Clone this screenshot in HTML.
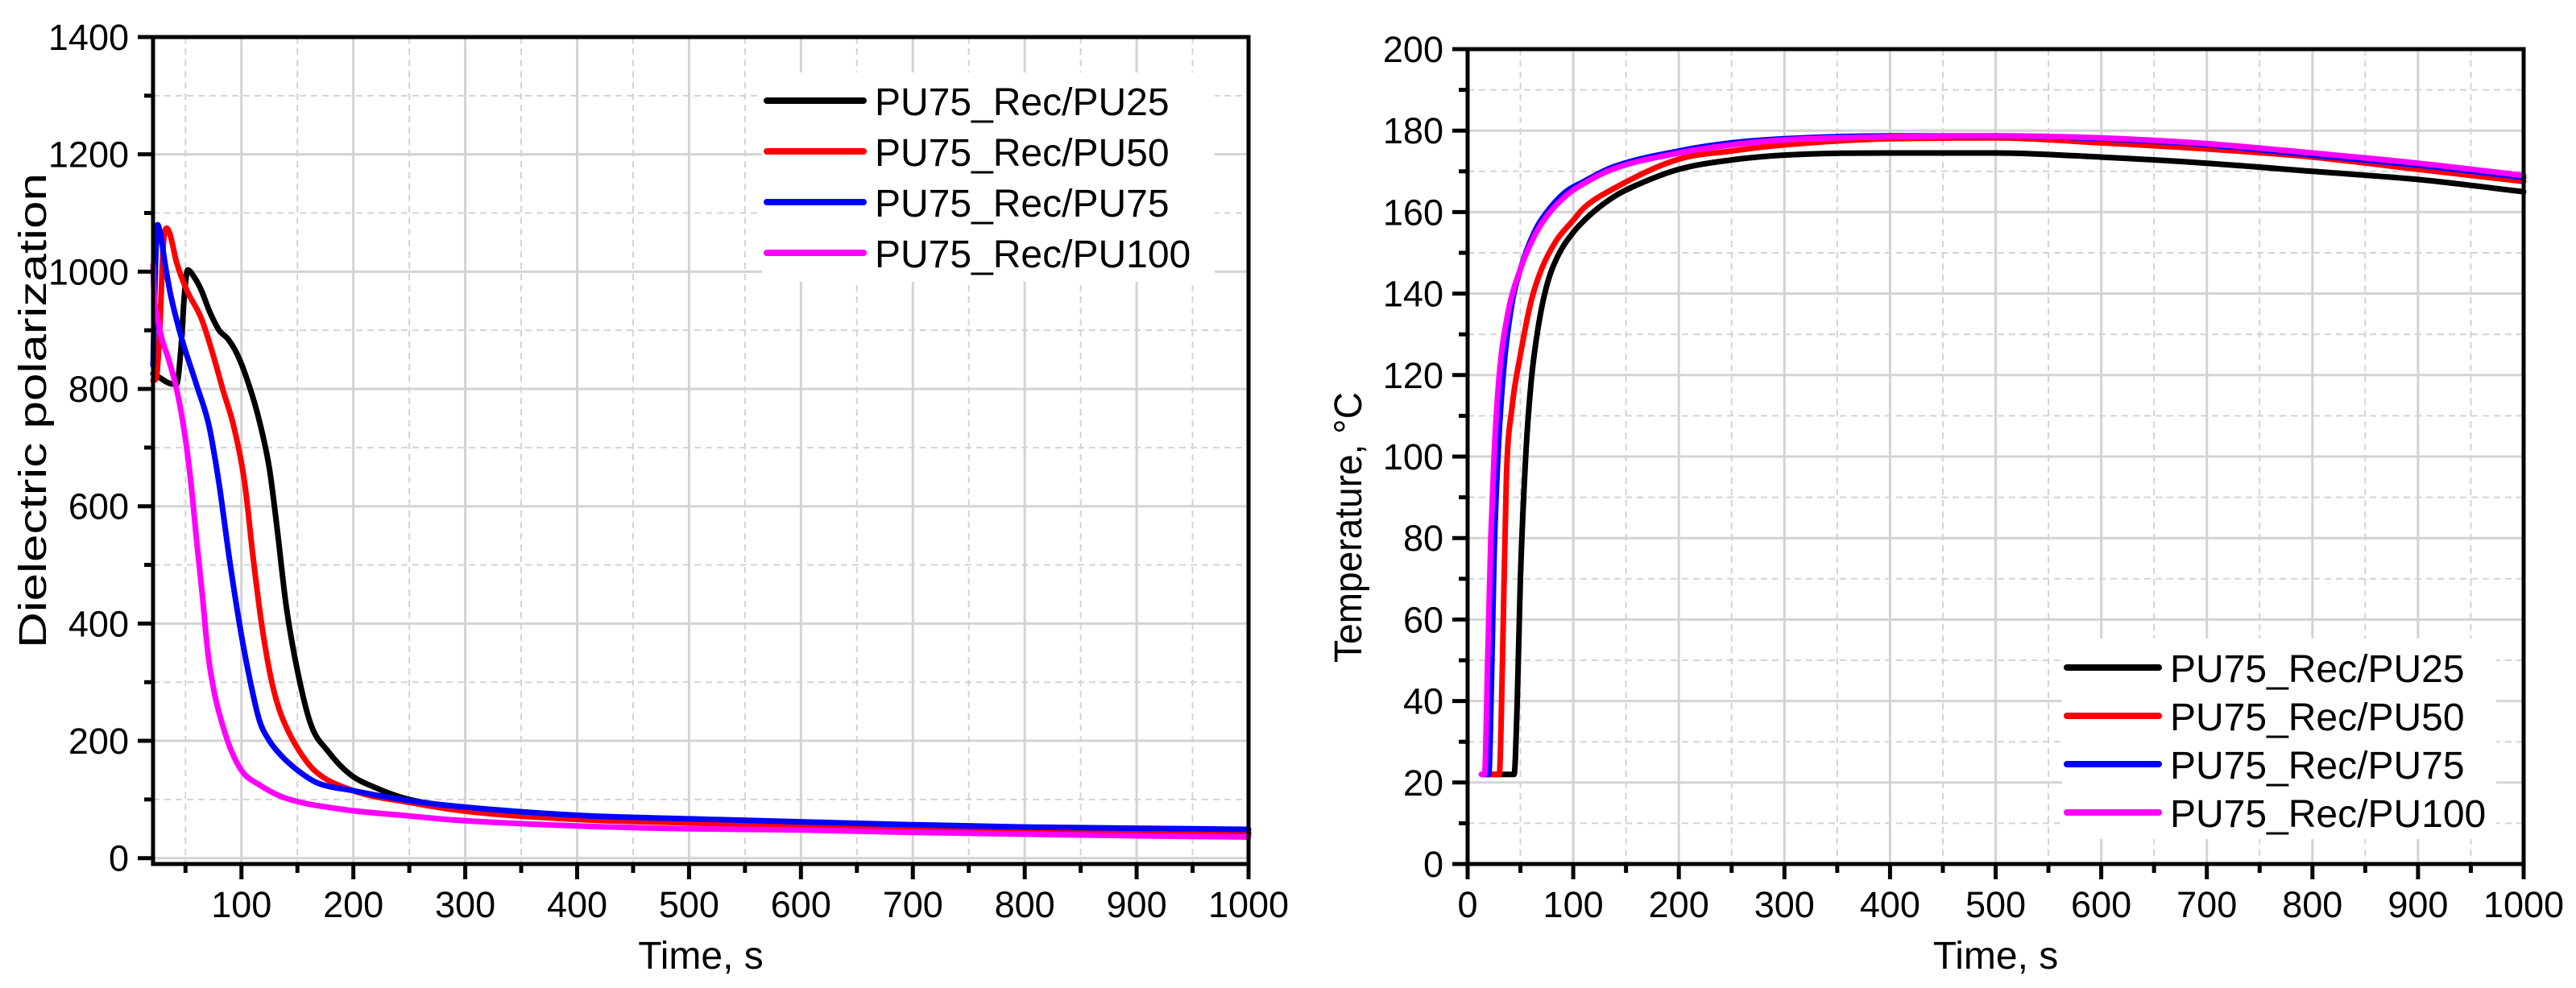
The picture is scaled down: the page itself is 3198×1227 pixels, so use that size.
<!DOCTYPE html>
<html><head><meta charset="utf-8"><style>
html,body{margin:0;padding:0;background:#fff;}
svg{display:block;font-family:"Liberation Sans",Arial,sans-serif;}
</style></head><body>
<svg id="fig" width="3198" height="1227" viewBox="0 0 3198 1227" xmlns="http://www.w3.org/2000/svg"></svg>
<script>
// ---------- Left chart data (dielectric polarization) ----------
const dpBlackX=[21,28,35,42,46,49,52,58,64,72,80,88,96,104,115,125,132,140,150,162,177,197,220,250,300,400,500,600,700,800,900,1000];
const dpBlackY=[826,818,810,808,870,960,1003,990,969,930,900,885,860,822,753,664,560,430,320,228,183,143,120,100,86,72,64,58,53,49,45,43];
const dpRedX=[21,24,27,30,33,36,42,51,64,73,84,93,103,110,118,126,133,139,150,165,200,250,300,400,500,600,700,800,900,1000];
const dpRedY=[814,820,900,1040,1074,1065,1016,969,921,869,795,737,638,520,400,310,258,228,188,150,115,95,80,66,60,55,50,46,42,40];
const dpBlueX=[21,23,25,28,32,37,46,60,71,80,90,100,108,116,125,137,150,167,200,250,300,400,500,600,700,800,900,1000];
const dpBlueY=[840,1000,1080,1060,1010,958,890,806,737,638,500,380,300,235,200,172,150,129,115,98,87,73,67,62,57,53,51,49];
const dpPinkX=[21,22,25,29,35,42,49,55,60,65,70,76,83,91,101,116,137,187,250,290,400,500,600,700,800,900,1000];
const dpPinkY=[1011,960,920,885,850,800,727,638,540,450,350,280,228,183,147,125,104,84,72,65,55,50,48,44,41,38,36];
const dpXTicks=[100,200,300,400,500,600,700,800,900,1000];
const dpYTicks=[0,200,400,600,800,1000,1200,1400];

// ---------- Right chart data (temperature) ----------
const tBlackX=[15,30,44,47,50,55,60,67,75,85,100,119,140,159,200,250,300,400,500,600,700,800,900,1000];
const tBlackY=[22,22,22,40,70,100,118,132,142,149,155,160,164,166.5,170.5,172.8,174,174.5,174.5,173.5,172,170,168,165];
const tRedX=[15,25,30,33,36.6,42,50,60,70,84,100,110,140,200,250,300,400,500,600,700,800,900,1000];
const tRedY=[22,22,22,50,94,112,125,138,146,153,158,161,166,173,175,176.5,178,178.2,177,175.5,173.5,170.5,167.5];
const tBlueX=[15,20,23,25,27.6,33,41,50,63,75,93,110,137,200,250,300,400,500,600,700,800,900,1000];
const tBlueY=[22,22,50,75,94,118,136,146,155,160,165,167.5,171,175,177,178,178.7,178.7,178,176.5,174,171.5,168.5];
const tPinkX=[13,16,19,22,25,30,38,50,63,75,93,110,137,200,250,300,400,500,600,700,800,900,1000];
const tPinkY=[22,22,50,80,100,120,135,146,154,159,164,167,170.5,174.5,176.5,177.7,178.5,178.7,178.2,176.8,174.5,172,169];
const tXTicks=[0,100,200,300,400,500,600,700,800,900,1000];
const tYTicks=[0,20,40,60,80,100,120,140,160,180,200];

const seriesNames=["PU75_Rec/PU25","PU75_Rec/PU50","PU75_Rec/PU75","PU75_Rec/PU100"];
const seriesColors=["#000000","#ff0000","#0000ff","#ff00ff"];

const NS="http://www.w3.org/2000/svg";
const svg=document.getElementById('fig');
function mk(tag,attrs,parent){const e=document.createElementNS(NS,tag);for(const k in attrs)e.setAttribute(k,attrs[k]);(parent||svg).appendChild(e);return e;}

// monotone cubic (Fritsch-Carlson) path through pixel points
function monoPath(px,py){
  const n=px.length;if(n<2)return '';
  const d=[],m=[];
  for(let i=0;i<n-1;i++){const dx=px[i+1]-px[i];d.push(dx===0?0:(py[i+1]-py[i])/dx);}
  m[0]=d[0];m[n-1]=d[n-2];
  for(let i=1;i<n-1;i++){m[i]=(d[i-1]*d[i]<=0)?0:(d[i-1]+d[i])/2;}
  for(let i=0;i<n-1;i++){
    if(d[i]===0){m[i]=0;m[i+1]=0;continue;}
    const a=m[i]/d[i],b=m[i+1]/d[i],s=a*a+b*b;
    if(s>9){const t=3/Math.sqrt(s);m[i]=t*a*d[i];m[i+1]=t*b*d[i];}
  }
  let p='M'+px[0].toFixed(1)+','+py[0].toFixed(1);
  for(let i=0;i<n-1;i++){
    const h=(px[i+1]-px[i])/3;
    p+=' C'+(px[i]+h).toFixed(1)+','+(py[i]+m[i]*h).toFixed(1)+' '+(px[i+1]-h).toFixed(1)+','+(py[i+1]-m[i+1]*h).toFixed(1)+' '+px[i+1].toFixed(1)+','+py[i+1].toFixed(1);
  }
  return p;
}

function chart(cfg){
  const g=mk('g',{});
  
  
  const sx=v=>cfg.L+(v-cfg.xmin)/(cfg.xmax-cfg.xmin)*(cfg.R-cfg.L);
  const sy=v=>cfg.B-(v-cfg.ymin)/(cfg.ymax-cfg.ymin)*(cfg.B-cfg.T);
  const grid=mk('g',{},g);
  
  
  for(let v=cfg.xGridStart;v<=cfg.xmax+1e-6;v+=cfg.xMinorStep){
    if(v<cfg.xmin)continue;
    const major=Math.abs(v/cfg.xMajorStep-Math.round(v/cfg.xMajorStep))<1e-6;
    mk('line',{x1:sx(v),x2:sx(v),y1:cfg.T,y2:cfg.B,stroke:'#d3d3d3','stroke-width':major?3:2,'stroke-dasharray':major?'':'8,6'},grid);
  }
  for(let v=cfg.ymin<0?0:cfg.ymin;v<=cfg.ymax+1e-6;v+=cfg.yMinorStep){
    const major=Math.abs(v/cfg.yMajorStep-Math.round(v/cfg.yMajorStep))<1e-6;
    mk('line',{x1:cfg.L,x2:cfg.R,y1:sy(v),y2:sy(v),stroke:'#d3d3d3','stroke-width':major?3:2,'stroke-dasharray':major?'':'8,6'},grid);
  }
  cfg.series.forEach((s,i)=>{
    const pth=mk('path',{d:monoPath(s.x.map(sx),s.y.map(sy)),fill:'none',stroke:seriesColors[i],'stroke-width':7,'stroke-linejoin':'round','stroke-linecap':'round'},g);
    
    
  });
  const lg=mk('g',{},g);
  
  
  mk('rect',{x:cfg.legBox[0],y:cfg.legBox[1],width:cfg.legBox[2],height:cfg.legBox[3],fill:'#fff'},lg);
  seriesNames.forEach((n,i)=>{
    const y=cfg.legY+i*cfg.legDy;
    const le=mk('g',{},lg);
    
    
    mk('line',{x1:cfg.legX,x2:cfg.legX+cfg.legLen,y1:y,y2:y,stroke:seriesColors[i],'stroke-width':8,'stroke-linecap':'round'},le);
    const t=mk('text',{x:cfg.legX+cfg.legLen+14,y:y+18,'font-size':48,fill:'#000'},le);
    t.textContent=n;
  });
  const fr=mk('rect',{x:cfg.L,y:cfg.T,width:cfg.R-cfg.L,height:cfg.B-cfg.T,fill:'none',stroke:'#000','stroke-width':5},g);
  
  
  const xa=mk('g',{},g);
  
  
  for(let v=cfg.xGridStart;v<=cfg.xmax+1e-6;v+=cfg.xMinorStep){
    if(v<cfg.xmin)continue;
    const major=Math.abs(v/cfg.xMajorStep-Math.round(v/cfg.xMajorStep))<1e-6;
    mk('line',{x1:sx(v),x2:sx(v),y1:cfg.B,y2:cfg.B+(major?19:11),stroke:'#000','stroke-width':5},xa);
  }
  cfg.xTicks.forEach(v=>{
    const t=mk('text',{x:sx(v),y:cfg.B+66,'font-size':45,'text-anchor':'middle'},xa);
    t.textContent=v;
  });
  const ya=mk('g',{},g);
  
  
  for(let v=(cfg.ymin<0?0:cfg.ymin);v<=cfg.ymax+1e-6;v+=cfg.yMinorStep){
    const major=Math.abs(v/cfg.yMajorStep-Math.round(v/cfg.yMajorStep))<1e-6;
    mk('line',{x1:cfg.L-(major?19:11),x2:cfg.L,y1:sy(v),y2:sy(v),stroke:'#000','stroke-width':5},ya);
  }
  cfg.yTicks.forEach(v=>{
    const t=mk('text',{x:cfg.L-30,y:sy(v)+16,'font-size':45,'text-anchor':'end'},ya);
    t.textContent=v;
  });
  const xt=mk('text',{x:(cfg.L+cfg.R)/2,y:1203,'font-size':48,'text-anchor':'middle'},g);
  xt.textContent='Time, s';
  
  
  const yt=mk('text',{x:0,y:0,'font-size':48,'text-anchor':'middle',textLength:cfg.yTitleLen,lengthAdjust:'spacingAndGlyphs',transform:`translate(${cfg.yTitleX},${cfg.yTitleY}) rotate(-90)`},g);
  yt.textContent=cfg.yTitle;
  
  
}

chart({name:'dielectric-polarization-chart',L:190,R:1550,T:46,B:1073,xmin:21,xmax:1000,ymin:-10,ymax:1400,
  xGridStart:50,xMinorStep:50,xMajorStep:100,yMinorStep:100,yMajorStep:200,xTicks:dpXTicks,yTicks:dpYTicks,
  yTitle:'Dielectric polarization',yTitleX:57,yTitleY:510,yTitleLen:590,
  series:[{x:dpBlackX,y:dpBlackY},{x:dpRedX,y:dpRedY},{x:dpBlueX,y:dpBlueY},{x:dpPinkX,y:dpPinkY}],
  legBox:[946,90,562,260],legX:952,legLen:120,legY:125,legDy:63});
chart({name:'temperature-chart',L:1822,R:3133,T:61,B:1073,xmin:0,xmax:1000,ymin:0,ymax:200,
  xGridStart:0,xMinorStep:50,xMajorStep:100,yMinorStep:10,yMajorStep:20,xTicks:tXTicks,yTicks:tYTicks,
  yTitle:'Temperature, °C',yTitleX:1690,yTitleY:655,yTitleLen:336,
  series:[{x:tBlackX,y:tBlackY},{x:tRedX,y:tRedY},{x:tBlueX,y:tBlueY},{x:tPinkX,y:tPinkY}],
  legBox:[2560,793,539,249],legX:2566,legLen:114,legY:829,legDy:60});
</script>
</body></html>
